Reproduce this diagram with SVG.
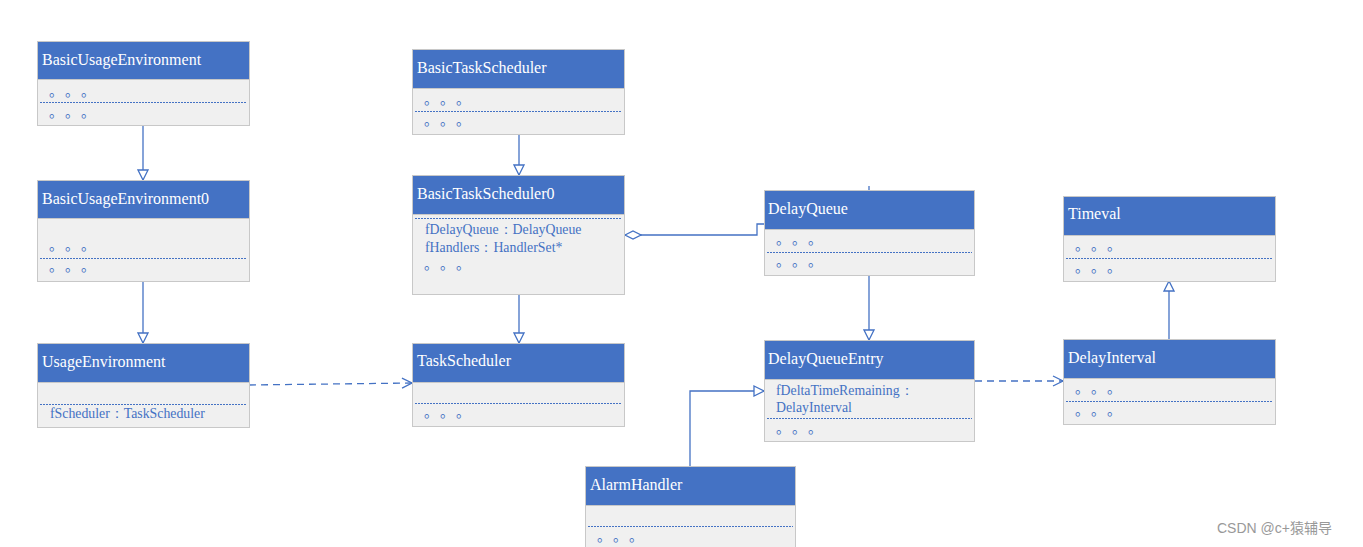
<svg xmlns="http://www.w3.org/2000/svg" width="1363" height="547" viewBox="0 0 1363 547">
<defs>
<style>
.hd{fill:#4472C4;stroke:#C8C8C8;stroke-width:1}
.bd{fill:#F0F0F0;stroke:#C8C8C8;stroke-width:1}
.sep{stroke:#4472C4;stroke-width:1;stroke-dasharray:2,1;fill:none}
.ht{font-family:"Liberation Serif",serif;font-size:16px;fill:#FFFFFF}
.bt{font-family:"Liberation Serif",serif;font-size:13.8px;fill:#4472C4}
.dots{font-family:"Liberation Serif","Noto Sans CJK SC",serif;font-size:14px;fill:#4472C4;letter-spacing:9px}
.ln{stroke:#4472C4;stroke-width:1.3;fill:none}
.dl{stroke:#4472C4;stroke-width:1.3;fill:none;stroke-dasharray:7,5}
.wm{font-family:"Liberation Sans","Noto Sans CJK SC",sans-serif;font-size:14px;fill:#999999}
</style>
<marker id="tri" viewBox="0 0 12 12" refX="11" refY="6" markerWidth="12" markerHeight="12" markerUnits="userSpaceOnUse" orient="auto">
<path d="M1,1 L11,6 L1,11 Z" fill="#FFFFFF" stroke="#4472C4" stroke-width="1.3"/>
</marker>
<marker id="open" viewBox="0 0 12 12" refX="11" refY="6" markerWidth="12" markerHeight="12" markerUnits="userSpaceOnUse" orient="auto">
<path d="M1,1 L11,6 L1,11" fill="none" stroke="#4472C4" stroke-width="1.3"/>
</marker>
<marker id="dia" viewBox="0 0 18 10" refX="1" refY="5" markerWidth="18" markerHeight="10" markerUnits="userSpaceOnUse" orient="auto">
<path d="M1,5 L9,1 L17,5 L9,9 Z" fill="#FFFFFF" stroke="#4472C4" stroke-width="1.3"/>
</marker>
</defs>
<rect width="1363" height="547" fill="#FFFFFF"/>

<g id="connectors">
<line class="ln" x1="143" y1="125" x2="143" y2="180" marker-end="url(#tri)"/>
<line class="ln" x1="143" y1="281" x2="143" y2="343" marker-end="url(#tri)"/>
<line class="ln" x1="519" y1="134" x2="519" y2="175" marker-end="url(#tri)"/>
<line class="ln" x1="519" y1="294" x2="519" y2="343" marker-end="url(#tri)"/>
<line class="dl" x1="249" y1="385" x2="412" y2="383" marker-end="url(#open)"/>
<polyline class="ln" points="625,235 757,235 757,224 764,224" marker-start="url(#dia)"/>
<line class="ln" x1="869" y1="186" x2="869" y2="190"/>
<line class="ln" x1="869" y1="275" x2="869" y2="340" marker-end="url(#tri)"/>
<polyline class="ln" points="690,466 690,391 764,391" marker-end="url(#tri)"/>
<line class="dl" x1="975" y1="381" x2="1063" y2="381" marker-end="url(#open)"/>
<line class="ln" x1="1169" y1="339" x2="1169" y2="281" marker-end="url(#tri)"/>
</g>

<g id="BasicUsageEnvironment">
<rect class="bd" x="37.5" y="79.5" width="212" height="46"/>
<rect class="hd" x="37.5" y="41.5" width="212" height="38"/>
<text class="ht" x="42" y="65">BasicUsageEnvironment</text>
<text class="dots" x="49" y="96">。。。</text>
<line class="sep" x1="40" y1="102.5" x2="247" y2="102.5"/>
<text class="dots" x="49" y="117">。。。</text>
</g>

<g id="BasicUsageEnvironment0">
<rect class="bd" x="37.5" y="218.5" width="212" height="63"/>
<rect class="hd" x="37.5" y="180.5" width="212" height="38"/>
<text class="ht" x="42" y="204">BasicUsageEnvironment0</text>
<text class="dots" x="49" y="250">。。。</text>
<line class="sep" x1="40" y1="258.5" x2="247" y2="258.5"/>
<text class="dots" x="49" y="271">。。。</text>
</g>

<g id="UsageEnvironment">
<rect class="bd" x="37.5" y="382.5" width="212" height="45"/>
<rect class="hd" x="37.5" y="343.5" width="212" height="39"/>
<text class="ht" x="42" y="367">UsageEnvironment</text>
<line class="sep" x1="40" y1="404.5" x2="247" y2="404.5"/>
<text class="bt" x="50" y="418">fScheduler：TaskScheduler</text>
</g>

<g id="BasicTaskScheduler">
<rect class="bd" x="412.5" y="88.5" width="212" height="46"/>
<rect class="hd" x="412.5" y="49.5" width="212" height="39"/>
<text class="ht" x="417" y="73">BasicTaskScheduler</text>
<text class="dots" x="424" y="104">。。。</text>
<line class="sep" x1="415" y1="111.5" x2="622" y2="111.5"/>
<text class="dots" x="424" y="125">。。。</text>
</g>

<g id="BasicTaskScheduler0">
<rect class="bd" x="412.5" y="214.5" width="212" height="80"/>
<rect class="hd" x="412.5" y="175.5" width="212" height="39"/>
<text class="ht" x="417" y="199">BasicTaskScheduler0</text>
<line class="sep" x1="415" y1="218.5" x2="622" y2="218.5"/>
<text class="bt" x="425" y="234">fDelayQueue：DelayQueue</text>
<text class="bt" x="425" y="252">fHandlers：HandlerSet*</text>
<text class="dots" x="424" y="269">。。。</text>
</g>

<g id="TaskScheduler">
<rect class="bd" x="412.5" y="382.5" width="212" height="44"/>
<rect class="hd" x="412.5" y="343.5" width="212" height="39"/>
<text class="ht" x="417" y="366">TaskScheduler</text>
<line class="sep" x1="415" y1="403.5" x2="622" y2="403.5"/>
<text class="dots" x="424" y="417">。。。</text>
</g>

<g id="DelayQueue">
<rect class="bd" x="764.5" y="229.5" width="210" height="46"/>
<rect class="hd" x="764.5" y="190.5" width="210" height="39"/>
<text class="ht" x="768" y="214">DelayQueue</text>
<text class="dots" x="776" y="244">。。。</text>
<line class="sep" x1="767" y1="252.5" x2="972" y2="252.5"/>
<text class="dots" x="776" y="266">。。。</text>
</g>

<g id="DelayQueueEntry">
<rect class="bd" x="764.5" y="379.5" width="210" height="62"/>
<rect class="hd" x="764.5" y="340.5" width="210" height="39"/>
<text class="ht" x="768" y="364">DelayQueueEntry</text>
<text class="bt" x="776" y="395">fDeltaTimeRemaining：</text>
<text class="bt" x="776" y="412">DelayInterval</text>
<line class="sep" x1="767" y1="418.5" x2="972" y2="418.5"/>
<text class="dots" x="776" y="433">。。。</text>
</g>

<g id="AlarmHandler">
<rect class="bd" x="585.5" y="505.5" width="210" height="44"/>
<rect class="hd" x="585.5" y="466.5" width="210" height="39"/>
<text class="ht" x="590" y="490">AlarmHandler</text>
<line class="sep" x1="588" y1="526.5" x2="793" y2="526.5"/>
<text class="dots" x="597" y="541">。。。</text>
</g>

<g id="Timeval">
<rect class="bd" x="1063.5" y="235.5" width="212" height="46"/>
<rect class="hd" x="1063.5" y="196.5" width="212" height="39"/>
<text class="ht" x="1068" y="219">Timeval</text>
<text class="dots" x="1075" y="250">。。。</text>
<line class="sep" x1="1066" y1="258.5" x2="1273" y2="258.5"/>
<text class="dots" x="1075" y="272">。。。</text>
</g>

<g id="DelayInterval">
<rect class="bd" x="1063.5" y="378.5" width="212" height="46"/>
<rect class="hd" x="1063.5" y="339.5" width="212" height="39"/>
<text class="ht" x="1068" y="363">DelayInterval</text>
<text class="dots" x="1075" y="393">。。。</text>
<line class="sep" x1="1066" y1="401.5" x2="1273" y2="401.5"/>
<text class="dots" x="1075" y="415">。。。</text>
</g>

<text class="wm" x="1217" y="533">CSDN @c+猿辅导</text>
</svg>
